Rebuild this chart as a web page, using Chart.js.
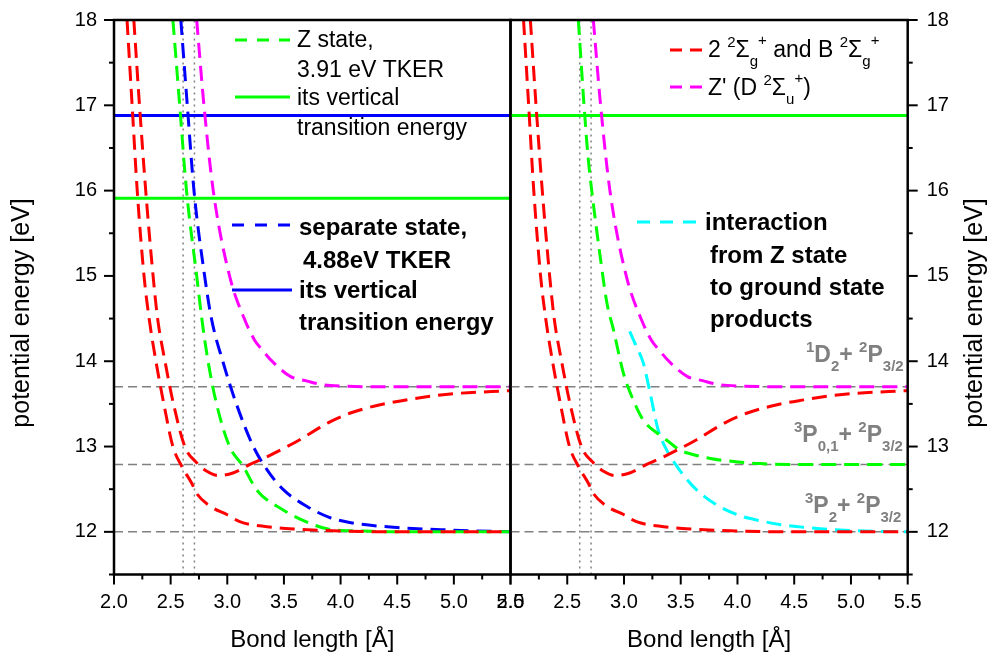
<!DOCTYPE html>
<html>
<head>
<meta charset="utf-8">
<script src="https://cdn.jsdelivr.net/npm/chart.js@4.4.0/dist/chart.umd.min.js"></script>
<style>
  html, body { margin: 0; padding: 0; background: #fff; }
  #wrap { position: relative; width: 987px; height: 655px; }
  #wrap canvas { position: absolute; left: 0; top: 0; }
</style>
</head>
<body>
<div id="wrap">
  <canvas id="leftChart" width="987" height="655"></canvas>
  <canvas id="rightChart" width="987" height="655"></canvas>
</div>
<script>
const FONT = "'Liberation Sans', Arial, Helvetica, sans-serif";
const X_MIN = 2.0, X_MAX = 5.5, Y_MIN = 11.5, Y_MAX = 18;

// potential curves (x: bond length [Å], y: energy [eV])
// 2 2Σg+ , lower branch -> 3P2 + 2P3/2
const red1X = [2.115, 2.16, 2.205, 2.265, 2.31, 2.37, 2.44, 2.52, 2.597, 2.686, 2.73, 2.85, 3.0, 3.11, 3.35, 3.64, 4.0, 4.5, 5.0, 5.5];
const red1Y = [18, 17, 16, 15, 14.5, 14, 13.5, 13, 12.77, 12.57, 12.45, 12.30, 12.20, 12.12, 12.06, 12.03, 12.01, 12.0, 12.0, 12.0];
// B 2Σg+ , bound branch -> 1D2 + 2P3/2
const red2X = [2.175, 2.225, 2.28, 2.345, 2.385, 2.45, 2.525, 2.625, 2.73, 2.82, 2.92, 3.05, 3.2, 3.35, 3.5, 3.64, 3.8, 3.906, 4.08, 4.35, 4.6, 4.79, 5.0, 5.5];
const red2Y = [18, 17, 16, 15, 14.5, 14, 13.5, 13, 12.81, 12.71, 12.66, 12.69, 12.79, 12.88, 12.98, 13.08, 13.21, 13.29, 13.39, 13.49, 13.55, 13.59, 13.62, 13.655];
// Z state (left panel)
const greenLX = [2.52, 2.58, 2.64, 2.73, 2.775, 2.83, 2.905, 3.02, 3.14, 3.26, 3.49, 3.73, 3.9, 4.2, 4.5, 5.0, 5.5];
const greenLY = [18, 17, 16, 15, 14.5, 14, 13.5, 13, 12.77, 12.49, 12.26, 12.10, 12.03, 12.01, 12.0, 12.0, 12.0];
// separate state
const blueX = [2.59, 2.647, 2.706, 2.80, 2.86, 2.96, 3.08, 3.23, 3.35, 3.49, 3.70, 3.9, 4.08, 4.5, 5.0, 5.5];
const blueY = [18, 17, 16, 15, 14.5, 14, 13.5, 13, 12.73, 12.5, 12.3, 12.17, 12.11, 12.05, 12.02, 12.0];
// Z' (D 2Σu+)
const magentaX = [2.73, 2.794, 2.876, 3.02, 3.156, 3.24, 3.31, 3.41, 3.56, 3.7, 3.82, 4.0, 4.5, 5.0, 5.5];
const magentaY = [18, 17, 16, 15, 14.48, 14.25, 14.13, 13.98, 13.82, 13.77, 13.73, 13.71, 13.70, 13.70, 13.70];
// Z state (right panel) -> 3P0,1 + 2P3/2
const greenRX = [2.598, 2.648, 2.683, 2.716, 2.79, 2.85, 2.907, 2.995, 3.08, 3.17, 3.3, 3.4, 3.49, 3.6, 3.76, 4.0, 4.2, 4.6, 5.0, 5.5];
const greenRY = [18, 17, 16.4, 16, 15.23, 14.68, 14.37, 13.86, 13.55, 13.31, 13.15, 13.05, 12.96, 12.91, 12.86, 12.82, 12.80, 12.79, 12.79, 12.79];
// interaction from Z state to ground state products
const cyanX = [3.05, 3.10, 3.17, 3.23, 3.30, 3.38, 3.45, 3.55, 3.65, 3.8, 4.0, 4.2, 4.4, 4.7, 5.0, 5.5];
const cyanY = [14.35, 14.2, 13.98, 13.63, 13.2, 12.95, 12.8, 12.62, 12.48, 12.33, 12.2, 12.13, 12.08, 12.04, 12.015, 12.0];

const asymptotes = [12.0, 12.79, 13.70];
const markerX = [2.61, 2.71];
const sepVertical = 16.88;     // blue solid, left
const zVertical = 15.91;       // green solid, left
const zRightVertical = 16.88;  // green solid, right

const RED = '#ff0000', GREEN = '#00ff00', BLUE = '#0000ff', MAGENTA = '#ff00ff', CYAN = '#00ffff', GRAY = '#808080';

function pts(xs, ys) { return xs.map((x, i) => ({ x, y: ys[i] })); }

function curve(xs, ys, color) {
  return { data: pts(xs, ys), borderColor: color, borderWidth: 3, borderDash: [15, 8],
           cubicInterpolationMode: 'monotone', pointRadius: 0, fill: false };
}
function hline(y, color, width, dash) {
  return { data: [{ x: X_MIN, y }, { x: X_MAX, y }], borderColor: color, borderWidth: width,
           borderDash: dash, pointRadius: 0, fill: false };
}
function vline(x) {
  return { data: [{ x, y: Y_MIN }, { x, y: Y_MAX }], borderColor: GRAY, borderWidth: 1.5,
           borderDash: [2, 4], pointRadius: 0, fill: false };
}

function drawSample(ctx, x1, x2, y, color, dash) {
  ctx.save();
  ctx.strokeStyle = color; ctx.lineWidth = 3; ctx.setLineDash(dash);
  ctx.beginPath(); ctx.moveTo(x1, y); ctx.lineTo(x2, y); ctx.stroke();
  ctx.restore();
}
function drawRich(ctx, x, y, parts, color) {
  ctx.save();
  ctx.fillStyle = color; ctx.textAlign = 'left'; ctx.textBaseline = 'alphabetic';
  let cx = x;
  for (const p of parts) {
    ctx.font = (p.b ? 'bold ' : '') + p.s + 'px ' + FONT;
    ctx.fillText(p.t, cx, y + (p.dy || 0));
    cx += ctx.measureText(p.t).width;
  }
  ctx.restore();
}
const N = (t, b) => ({ t, s: 23, b });
const SUP = (t, b) => ({ t, s: 15, dy: t === '+' ? -12 : -10, b });
const SUB = (t, b) => ({ t, s: 15, dy: 9, b });

// frame, tick marks and the rotated y title
const framePlugin = {
  id: 'frame',
  afterDraw(chart, args, opts) {
    const { ctx, chartArea: a } = chart;
    const xs = chart.scales.x, ys = chart.scales.y;
    ctx.save();
    ctx.strokeStyle = '#000';
    ctx.lineWidth = 2.5;
    ctx.strokeRect(a.left, a.top, a.right - a.left, a.bottom - a.top);
    ctx.lineWidth = 2;
    xs.ticks.forEach(t => {
      const px = xs.getPixelForValue(t.value);
      const len = Math.abs(t.value * 2 - Math.round(t.value * 2)) < 1e-6 ? 10 : 5;
      ctx.beginPath(); ctx.moveTo(px, a.bottom); ctx.lineTo(px, a.bottom + len); ctx.stroke();
    });
    const edge = opts.side === 'left' ? a.left : a.right;
    const dir = opts.side === 'left' ? -1 : 1;
    ys.ticks.forEach(t => {
      const py = ys.getPixelForValue(t.value);
      const len = Math.abs(t.value - Math.round(t.value)) < 1e-6 ? 10 : 5;
      ctx.beginPath(); ctx.moveTo(edge, py); ctx.lineTo(edge + dir * len, py); ctx.stroke();
    });
    // y title
    ctx.fillStyle = '#000';
    ctx.font = '25px ' + FONT;
    ctx.textAlign = 'center'; ctx.textBaseline = 'middle';
    ctx.translate(opts.titleX, 313);
    ctx.rotate(-Math.PI / 2);
    ctx.fillText('potential energy [eV]', 0, 0);
    ctx.restore();
  }
};

const leftLegend = {
  id: 'leftLegend',
  afterDraw(chart) {
    const ctx = chart.ctx;
    drawSample(ctx, 235, 290, 40, GREEN, [12, 10]);
    drawRich(ctx, 297, 47, [N('Z state,')], '#000');
    drawRich(ctx, 297, 77, [N('3.91 eV TKER')], '#000');
    drawSample(ctx, 235, 290, 97, GREEN, []);
    drawRich(ctx, 297, 105, [N('its vertical')], '#000');
    drawRich(ctx, 297, 135, [N('transition energy')], '#000');

    drawSample(ctx, 232, 292, 225, BLUE, [12, 11]);
    drawRich(ctx, 299, 235, [{ t: 'separate state,', s: 24, b: true }], '#000');
    drawRich(ctx, 303, 268, [{ t: '4.88eV TKER', s: 24, b: true }], '#000');
    drawSample(ctx, 232, 292, 290, BLUE, []);
    drawRich(ctx, 299, 298, [{ t: 'its vertical', s: 24, b: true }], '#000');
    drawRich(ctx, 299, 330, [{ t: 'transition energy', s: 24, b: true }], '#000');
  }
};

const rightLegend = {
  id: 'rightLegend',
  afterDraw(chart) {
    const ctx = chart.ctx;
    drawSample(ctx, 670, 702, 50, RED, [12, 8]);
    drawRich(ctx, 708, 57, [N('2 '), SUP('2'), N('Σ'), SUB('g'), SUP('+'), N(' and B '), SUP('2'), N('Σ'), SUB('g'), SUP('+')], '#000');
    drawSample(ctx, 670, 702, 87, MAGENTA, [12, 8]);
    drawRich(ctx, 708, 95, [N("Z' (D "), SUP('2'), N('Σ'), SUB('u'), SUP('+'), N(')')], '#000');

    drawSample(ctx, 637, 698, 222, CYAN, [13, 10]);
    drawRich(ctx, 705, 230, [{ t: 'interaction', s: 24, b: true }], '#000');
    drawRich(ctx, 710, 263, [{ t: 'from Z state', s: 24, b: true }], '#000');
    drawRich(ctx, 710, 295, [{ t: 'to ground state', s: 24, b: true }], '#000');
    drawRich(ctx, 710, 327, [{ t: 'products', s: 24, b: true }], '#000');

    // dissociation limits
    drawRich(ctx, 806, 362, [SUP('1', true), N('D', true), SUB('2', true), N('+ ', true), SUP('2', true), N('P', true), SUB('3/2', true)], GRAY);
    drawRich(ctx, 794, 442, [SUP('3', true), N('P', true), SUB('0,1', true), N('+ ', true), SUP('2', true), N('P', true), SUB('3/2', true)], GRAY);
    drawRich(ctx, 805, 513, [SUP('3', true), N('P', true), SUB('2', true), N('+ ', true), SUP('2', true), N('P', true), SUB('3/2', true)], GRAY);
  }
};

Chart.defaults.font.family = FONT;
Chart.defaults.color = '#000';

function panelOptions(side) {
  return {
    responsive: false,
    animation: false,
    layout: { padding: side === 'left'
      ? { left: 0, top: 20, right: 476.5, bottom: 0 }
      : { left: 510.5, top: 20, right: 0, bottom: 0 } },
    plugins: {
      legend: { display: false },
      tooltip: { enabled: false },
      frame: { side, titleX: side === 'left' ? 22.5 : 975 }
    },
    scales: {
      x: {
        type: 'linear', min: X_MIN, max: X_MAX,
        grid: { display: false, drawTicks: false },
        border: { display: false },
        ticks: {
          stepSize: 0.25, autoSkip: false, maxRotation: 0, padding: 16,
          font: { size: 20 },
          callback: v => Math.abs(v * 2 - Math.round(v * 2)) < 1e-6 ? v.toFixed(1) : ''
        },
        title: { display: true, text: 'Bond length [Å]', font: { size: 24 }, padding: { top: 0, bottom: 0 } },
        afterFit: s => { s.height = 80.5; s.paddingLeft = 0; s.paddingRight = 0; }
      },
      y: {
        type: 'linear', min: Y_MIN, max: Y_MAX, position: side,
        grid: { display: false, drawTicks: false },
        border: { display: false },
        ticks: {
          stepSize: 0.5, autoSkip: false, padding: side === 'left' ? 17 : 19,
          font: { size: 20 },
          callback: v => Math.abs(v - Math.round(v)) < 1e-6 ? String(Math.round(v)) : ''
        },
        afterFit: s => { s.width = side === 'left' ? 114 : 79.3; s.paddingTop = 0; s.paddingBottom = 0; }
      }
    }
  };
}

const levelSets = () => asymptotes.map(y => hline(y, GRAY, 1.5, [9, 5]));
const markerSets = () => markerX.map(x => vline(x));

new Chart(document.getElementById('leftChart'), {
  type: 'line',
  data: {
    datasets: [
      curve(red1X, red1Y, RED),
      curve(red2X, red2Y, RED),
      curve(greenLX, greenLY, GREEN),
      curve(blueX, blueY, BLUE),
      curve(magentaX, magentaY, MAGENTA),
      hline(sepVertical, BLUE, 3, []),
      hline(zVertical, GREEN, 3, []),
      ...levelSets(),
      ...markerSets()
    ]
  },
  options: panelOptions('left'),
  plugins: [framePlugin, leftLegend]
});

new Chart(document.getElementById('rightChart'), {
  type: 'line',
  data: {
    datasets: [
      curve(red1X, red1Y, RED),
      curve(red2X, red2Y, RED),
      curve(greenRX, greenRY, GREEN),
      curve(cyanX, cyanY, CYAN),
      curve(magentaX, magentaY, MAGENTA),
      hline(zRightVertical, GREEN, 3, []),
      ...levelSets(),
      ...markerSets()
    ]
  },
  options: panelOptions('right'),
  plugins: [framePlugin, rightLegend]
});
</script>
</body>
</html>
